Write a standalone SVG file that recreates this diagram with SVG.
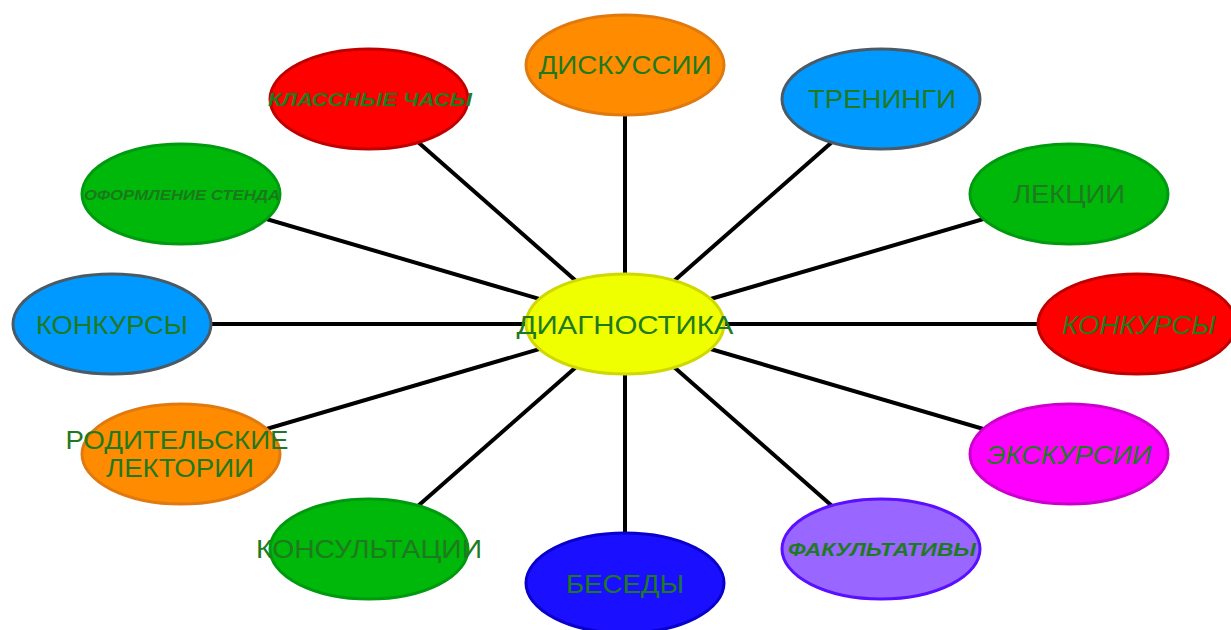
<svg xmlns="http://www.w3.org/2000/svg" width="1231" height="630" viewBox="0 0 1231 630">
<style>
.n{stroke-width:3}
.t{font-family:"Liberation Sans",Arial,sans-serif;font-size:25px;fill:#1f7a1f;text-anchor:middle}
.i{font-style:italic}
.b{font-weight:bold;font-style:italic;font-size:18px}
.red{fill:#ff0000;stroke:#c00000}
.grn{fill:#00b80a;stroke:#009a10}
.blu{fill:#0099ff;stroke:#4a5a66}
.org{fill:#ff8c00;stroke:#e07a10}
.yel{fill:#f0ff00;stroke:#cfd800}
.mag{fill:#ff00ff;stroke:#cc00cc}
.pur{fill:#9966ff;stroke:#5a10ff}
.dbl{fill:#1a10ff;stroke:#0a00cc}
</style>
<rect width="1231" height="630" fill="#ffffff"/>
<g id="connectors" stroke="#000" stroke-width="4">
<line x1="625" y1="324" x2="625" y2="65"/>
<line x1="625" y1="324" x2="881" y2="99"/>
<line x1="625" y1="324" x2="1069" y2="194"/>
<line x1="625" y1="324" x2="1138" y2="324"/>
<line x1="625" y1="324" x2="1069" y2="454"/>
<line x1="625" y1="324" x2="881" y2="549"/>
<line x1="625" y1="324" x2="625" y2="583"/>
<line x1="625" y1="324" x2="369" y2="549"/>
<line x1="625" y1="324" x2="181" y2="454"/>
<line x1="625" y1="324" x2="112" y2="324"/>
<line x1="625" y1="324" x2="181" y2="194"/>
<line x1="625" y1="324" x2="369" y2="99"/>
</g>
<g id="n-diskussii"><ellipse class="n org" cx="625" cy="65" rx="99" ry="50"/><text class="t" x="625" y="74" textLength="173" lengthAdjust="spacingAndGlyphs">ДИСКУССИИ</text></g>
<g id="n-treningi"><ellipse class="n blu" cx="881" cy="99" rx="99" ry="50"/><text class="t" x="882" y="108" textLength="148" lengthAdjust="spacingAndGlyphs">ТРЕНИНГИ</text></g>
<g id="n-lekcii"><ellipse class="n grn" cx="1069" cy="194" rx="99" ry="50"/><text class="t" x="1069" y="203" textLength="112" lengthAdjust="spacingAndGlyphs">ЛЕКЦИИ</text></g>
<g id="n-konkursy-r"><ellipse class="n red" cx="1137" cy="324" rx="99" ry="50"/><text class="t i" x="1139" y="334" textLength="154" lengthAdjust="spacingAndGlyphs">КОНКУРСЫ</text></g>
<g id="n-ekskursii"><ellipse class="n mag" cx="1069" cy="454" rx="99" ry="50"/><text class="t i" x="1069" y="464" textLength="165" lengthAdjust="spacingAndGlyphs">ЭКСКУРСИИ</text></g>
<g id="n-fakultativy"><ellipse class="n pur" cx="881" cy="549" rx="99" ry="50"/><text class="t b" x="882" y="556" textLength="188" lengthAdjust="spacingAndGlyphs">ФАКУЛЬТАТИВЫ</text></g>
<g id="n-besedy"><ellipse class="n dbl" cx="625" cy="583" rx="99" ry="50"/><text class="t" x="625" y="593" textLength="118" lengthAdjust="spacingAndGlyphs">БЕСЕДЫ</text></g>
<g id="n-konsultacii"><ellipse class="n grn" cx="369" cy="549" rx="99" ry="50"/><text class="t" x="369" y="558" textLength="226" lengthAdjust="spacingAndGlyphs">КОНСУЛЬТАЦИИ</text></g>
<g id="n-roditelskie"><ellipse class="n org" cx="181" cy="454" rx="99" ry="50"/><text class="t" x="177" y="449" textLength="223" lengthAdjust="spacingAndGlyphs">РОДИТЕЛЬСКИЕ</text><text class="t" x="180" y="477" textLength="148" lengthAdjust="spacingAndGlyphs">ЛЕКТОРИИ</text></g>
<g id="n-konkursy-l"><ellipse class="n blu" cx="112" cy="324" rx="99" ry="50"/><text class="t" x="112" y="334" textLength="152" lengthAdjust="spacingAndGlyphs">КОНКУРСЫ</text></g>
<g id="n-oformlenie"><ellipse class="n grn" cx="181" cy="194" rx="99" ry="50"/><text class="t b" style="font-size:14.5px;fill:#1a7a1a" x="182" y="200" textLength="196" lengthAdjust="spacingAndGlyphs">ОФОРМЛЕНИЕ СТЕНДА</text></g>
<g id="n-klassnye"><ellipse class="n red" cx="369" cy="99" rx="99" ry="50"/><text class="t b" x="370" y="106" textLength="204" lengthAdjust="spacingAndGlyphs">КЛАССНЫЕ ЧАСЫ</text></g>
<g id="n-diagnostika"><ellipse class="n yel" cx="625" cy="324" rx="99" ry="50"/><text class="t" x="625" y="334" textLength="217" lengthAdjust="spacingAndGlyphs">ДИАГНОСТИКА</text></g>
</svg>
